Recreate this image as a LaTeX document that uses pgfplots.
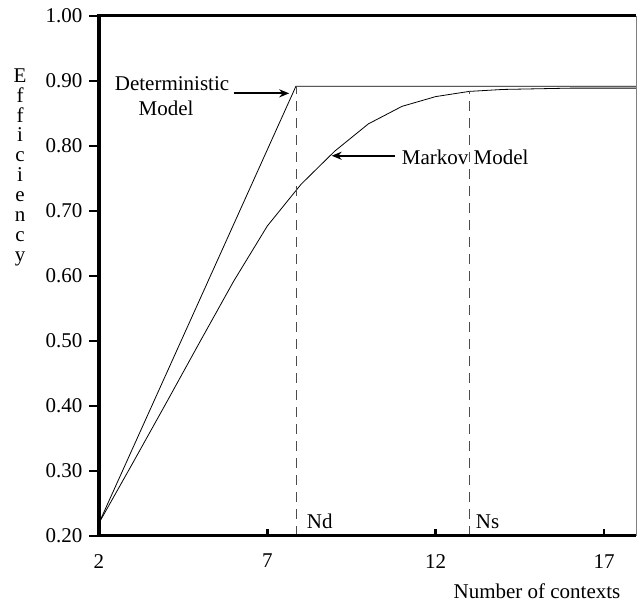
\documentclass[border=0pt]{standalone}
\usepackage{fontspec}
\setmainfont{Liberation Serif}
\usepackage{pgfplots}
\pgfplotsset{compat=1.18}
\usetikzlibrary{arrows.meta}
\begin{document}
\begin{tikzpicture}[font=\fontsize{21bp}{25bp}\selectfont]
\useasboundingbox (0,0) rectangle (637bp,602bp);
\begin{axis}[
  at={(99bp,66bp)}, anchor=south west,
  width=537bp, height=520bp, scale only axis,
  xmin=2, xmax=17.95, ymin=0.2, ymax=1.0,
  clip=false,
  axis line style={draw=none},
  tick style={draw=none},
  xtick={2,7,12,17},
  ytick={0.2,0.3,0.4,0.5,0.6,0.7,0.8,0.9,1.0},
  /pgf/number format/assume math mode=true,
  yticklabel style={/pgf/number format/fixed, /pgf/number format/fixed zerofill, /pgf/number format/precision=2, anchor=east, inner sep=0pt, xshift=-16.5bp},
  xticklabel style={anchor=north, inner sep=0pt, yshift=-18bp},
  after end axis/.code={
    \draw[line width=3bp, line join=miter] (rel axis cs:1,1) -- (rel axis cs:0,1) -- (rel axis cs:0,0) -- (rel axis cs:1,0);
    \draw[gray, line width=0.9bp] (rel axis cs:1,0) -- (rel axis cs:1,1);
    \foreach \yy in {0.2,0.3,0.4,0.5,0.6,0.7,0.8,0.9,1.0} {
      \draw[line width=2.6bp] (axis cs:2,\yy) -- ++(-10bp,0);
    }
    \foreach \xx in {2,7,12,17} {
      \draw[line width=2.6bp] (axis cs:\xx,0.2) -- ++(0,7bp);
    }
  },
]
% Deterministic model
\addplot[black, line width=0.8bp] coordinates {(2,0.22) (7.85,0.892) (17.95,0.892)};
% Markov model
\addplot[black, line width=0.8bp] coordinates {
 (2,0.22) (3,0.312) (4,0.405) (5,0.499) (6,0.592) (7,0.677) (8,0.741) (9,0.792)
 (10,0.834) (11,0.861) (12,0.876) (13,0.884) (14,0.887) (15,0.888) (16,0.889)
 (17,0.889) (17.95,0.889)};
% Nd, Ns markers
\addplot[black!70, line width=0.8bp, dash pattern=on 10bp off 7bp] coordinates {(7.85,0.2) (7.85,0.892)};
\addplot[black!70, line width=0.8bp, dash pattern=on 10bp off 7bp] coordinates {(13,0.2) (13,0.884)};
\node[anchor=base west, inner sep=0pt] at (axis cs:8.17,0.2123) {Nd};
\node[anchor=base west, inner sep=0pt] at (axis cs:13.19,0.2123) {Ns};
% annotations
\node[anchor=base, inner sep=0pt] at (axis cs:4.17,0.885) {Deterministic};
\node[anchor=base, inner sep=0pt] at (axis cs:3.99,0.847) {Model};
\draw[line width=1.8bp, -{Stealth[length=10bp,width=8bp]}] (axis cs:6.0,0.881) -- (axis cs:7.65,0.881);
\node[anchor=base west, inner sep=0pt] at (axis cs:10.99,0.771) {Markov Model};
\draw[line width=1.8bp, -{Stealth[length=10bp,width=8bp]}] (axis cs:10.79,0.785) -- (axis cs:8.91,0.785);
\end{axis}
\node[anchor=north, align=center, inner sep=0pt, font=\fontsize{21bp}{19.9bp}\selectfont] at (20bp,533.7bp) {E\\f\\f\\i\\c\\i\\e\\n\\c\\y};
\node[anchor=base, inner sep=0pt] at (537bp,4bp) {Number of contexts};
\end{tikzpicture}
\end{document}
